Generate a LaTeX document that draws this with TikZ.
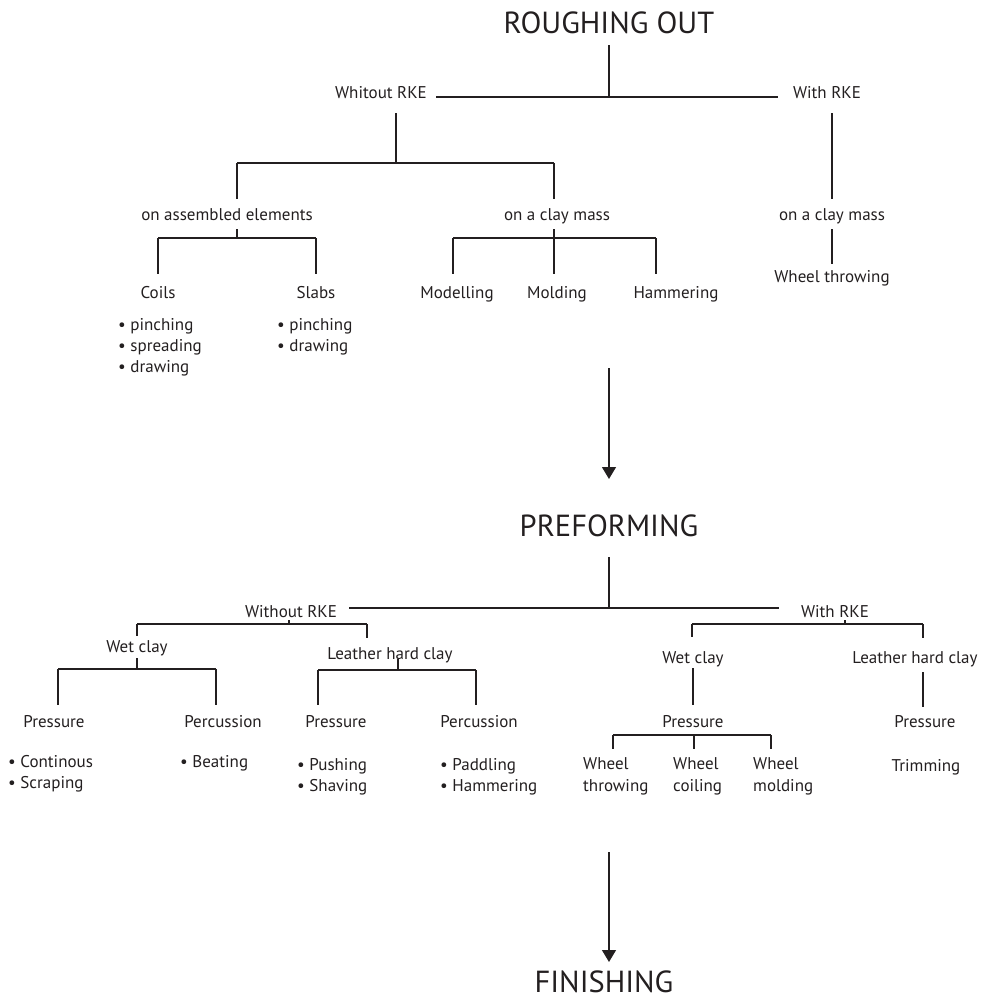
\documentclass[tikz,border=0pt]{standalone}
\usepackage{fontspec}
\setmainfont{PT Sans}
\usepackage{tikz}
\usetikzlibrary{arrows.meta, positioning}
\definecolor{mydark}{RGB}{35,31,32}
\newcommand{\itemfont}{\fontsize{17}{21}\selectfont}
\newcommand{\stagefont}{\fontsize{30.5}{36}\selectfont}
\tikzset{
  stage/.style={font=\stagefont, text=mydark, inner sep=0pt, anchor=base},
  item/.style={font=\itemfont, text=mydark, inner sep=0pt, anchor=base},
  bullets/.style={font=\itemfont, text=mydark, inner sep=0pt, align=left, anchor=north west},
  line/.style={line width=1.2pt, color=mydark},
  arrow/.style={-{Triangle[length=12pt, width=14pt]}, line width=1.2pt, color=mydark}
}

\begin{document}
\begin{tikzpicture}[x=1pt, y=-1pt]
  \useasboundingbox (0,0) rectangle (986,999);

  % roughing out
  \node[stage] (ro) at (609,33) {ROUGHING OUT};
  \node[item] (ro-wo) at (381,98) {Whitout RKE};
  \node[item] (ro-w) at (827,98) {With RKE};
  \coordinate (ro-j) at (609,97);
  \draw[line, shorten <=12pt] (ro.base) -- (ro-j);
  \draw[line, shorten <=9pt, shorten >=15pt] (ro-wo.east |- ro-j) -- (ro-w.west |- ro-j);

  % without RKE
  \coordinate (wo-j) at (396,163);
  \coordinate (asm-j) at (237,163);
  \coordinate (mass-j) at (554,163);
  \node[item] (asm) at (227,220) {on assembled elements};
  \node[item] (mass) at (557,220) {on a clay mass};
  \draw[line, shorten <=15pt] (wo-j |- ro-wo.base) -- (wo-j);
  \draw[line] (asm-j) -- (mass-j);
  \draw[line, shorten >=21pt] (asm-j) -- (asm-j |- asm.base);
  \draw[line, shorten >=21pt] (mass-j) -- (mass-j |- mass.base);

  % assembled elements
  \coordinate (asm-b) at (237,238);
  \node[item] (coils) at (158,298) {Coils};
  \node[item] (slabs) at (316,298) {Slabs};
  \draw[line, shorten <=9pt] (asm-j |- asm.base) -- (asm-b);
  \draw[line] (coils |- asm-b) -- (slabs |- asm-b);
  \draw[line, shorten >=24pt] (coils |- asm-b) -- (coils.base);
  \draw[line, shorten >=24pt] (slabs |- asm-b) -- (slabs.base);
  \node[bullets] (coils-l) at (118,318) {• pinching\\• spreading\\• drawing};
  \node[bullets] (slabs-l) at (277,318) {• pinching\\• drawing};

  % clay mass
  \coordinate (mass-l) at (453,238);
  \coordinate (mass-r) at (656,238);
  \node[item] (modelling) at (457,298) {Modelling};
  \node[item] (molding) at (557,298) {Molding};
  \node[item] (hammering) at (676,298) {Hammering};
  \draw[line] (mass-l) -- (mass-r);
  \draw[line, shorten <=9pt, shorten >=24pt] (mass-j |- mass.base) -- (mass-j |- molding.base);
  \draw[line, shorten >=24pt] (mass-l) -- (mass-l |- modelling.base);
  \draw[line, shorten >=24pt] (mass-r) -- (mass-r |- hammering.base);

  % with RKE
  \node[item] (mass2) at (832,220) {on a clay mass};
  \node[item] (wheel) at (832,282) {Wheel throwing};
  \draw[line, shorten <=15pt, shorten >=21pt] (mass2 |- ro-w.base) -- (mass2.base);
  \draw[line, shorten <=9pt, shorten >=18pt] (mass2.base) -- (wheel.base);

  % preforming
  \coordinate (arr1) at (609,368);
  \node[stage] (pf) at (609,536) {PREFORMING};
  \draw[arrow, shorten >=57pt] (arr1) -- (arr1 |- pf.base);
  \coordinate (pf-j) at (609,608);
  \node[item] (pf-wo) at (291,617) {Without RKE};
  \node[item] (pf-w) at (835,617) {With RKE};
  \draw[line, shorten <=21pt] (pf.base) -- (pf-j);
  \draw[line, shorten <=12pt, shorten >=22pt] (pf-wo.east |- pf-j) -- (pf-w.west |- pf-j);

  % without RKE
  \coordinate (wo2-j) at (289,624);
  \coordinate (wet1-t) at (137,624);
  \coordinate (lhc1-t) at (367,624);
  \node[item] (wet1) at (137,652) {Wet clay};
  \node[item] (lhc1) at (390,659) {Leather hard clay};
  \draw[line, shorten <=3pt] (wo2-j |- pf-wo.base) -- (wo2-j);
  \draw[line] (wet1-t) -- (lhc1-t);
  \draw[line, shorten >=16pt] (wet1-t) -- (wet1-t |- wet1.base);
  \draw[line, shorten >=21pt] (lhc1-t) -- (lhc1-t |- lhc1.base);

  % wet clay
  \coordinate (wet1-b) at (137,669);
  \coordinate (pr1-t) at (58,669);
  \coordinate (pc1-t) at (216,669);
  \node[item] (pr1) at (54,727) {Pressure};
  \node[item] (pc1) at (223,727) {Percussion};
  \draw[line, shorten <=6pt] (wet1.base) -- (wet1-b);
  \draw[line] (pr1-t) -- (pc1-t);
  \draw[line, shorten >=22pt] (pr1-t) -- (pr1-t |- pr1.base);
  \draw[line, shorten >=22pt] (pc1-t) -- (pc1-t |- pc1.base);
  \node[bullets] (pr1-l) at (8,755) {• Continous\\• Scraping};
  \node[bullets] (pc1-l) at (180,755) {• Beating};

  % leather hard clay
  \coordinate (lhc1-b) at (398,670);
  \coordinate (pr2-t) at (318,670);
  \coordinate (pc2-t) at (476,670);
  \node[item] (pr2) at (336,727) {Pressure};
  \node[item] (pc2) at (479,727) {Percussion};
  \draw[line] (lhc1-b |- lhc1.base) -- (lhc1-b);
  \draw[line] (pr2-t) -- (pc2-t);
  \draw[line, shorten >=22pt] (pr2-t) -- (pr2-t |- pr2.base);
  \draw[line, shorten >=22pt] (pc2-t) -- (pc2-t |- pc2.base);
  \node[bullets] (pr2-l) at (297,758) {• Pushing\\• Shaving};
  \node[bullets] (pc2-l) at (440,758) {• Paddling\\• Hammering};

  % with RKE
  \coordinate (w2-j) at (845,624);
  \coordinate (wet2-t) at (692,624);
  \coordinate (lhc2-t) at (923,624);
  \node[item] (wet2) at (693,663) {Wet clay};
  \node[item] (lhc2) at (915,663) {Leather hard clay};
  \draw[line, shorten <=3pt] (w2-j |- pf-w.base) -- (w2-j);
  \draw[line] (wet2-t) -- (lhc2-t);
  \draw[line, shorten >=26pt] (wet2-t) -- (wet2-t |- wet2.base);
  \draw[line, shorten >=25pt] (lhc2-t) -- (lhc2-t |- lhc2.base);

  % wet clay, wheel
  \node[item] (pr3) at (693,727) {Pressure};
  \draw[line, shorten <=5pt, shorten >=22pt] (wet2.base) -- (pr3.base);
  \coordinate (wt-t) at (613,735);
  \coordinate (wc-t) at (694,735);
  \coordinate (wm-t) at (771,735);
  \node[bullets, font=\fontsize{17}{22}\selectfont] (wt) at (583,757) {Wheel\\throwing};
  \node[bullets, font=\fontsize{17}{22}\selectfont] (wc) at (673,757) {Wheel\\coiling};
  \node[bullets, font=\fontsize{17}{22}\selectfont] (wm) at (753,757) {Wheel\\molding};
  \draw[line] (wt-t) -- (wm-t);
  \draw[line, shorten >=8pt] (wt-t) -- (wt-t |- wt.north);
  \draw[line, shorten >=8pt] (wc-t) -- (wc-t |- wc.north);
  \draw[line, shorten >=8pt] (wm-t) -- (wm-t |- wm.north);

  % leather hard clay, trimming
  \node[item] (pr4) at (925,727) {Pressure};
  \node[item] (trim) at (926,771) {Trimming};
  \draw[line, shorten <=9pt, shorten >=20pt] (lhc2-t |- lhc2.base) -- (lhc2-t |- pr4.base);

  % finishing
  \coordinate (arr2) at (609,852);
  \node[stage] (fin) at (604,992) {FINISHING};
  \draw[arrow, shorten >=30pt] (arr2) -- (arr2 |- fin.base);
\end{tikzpicture}
\end{document}
